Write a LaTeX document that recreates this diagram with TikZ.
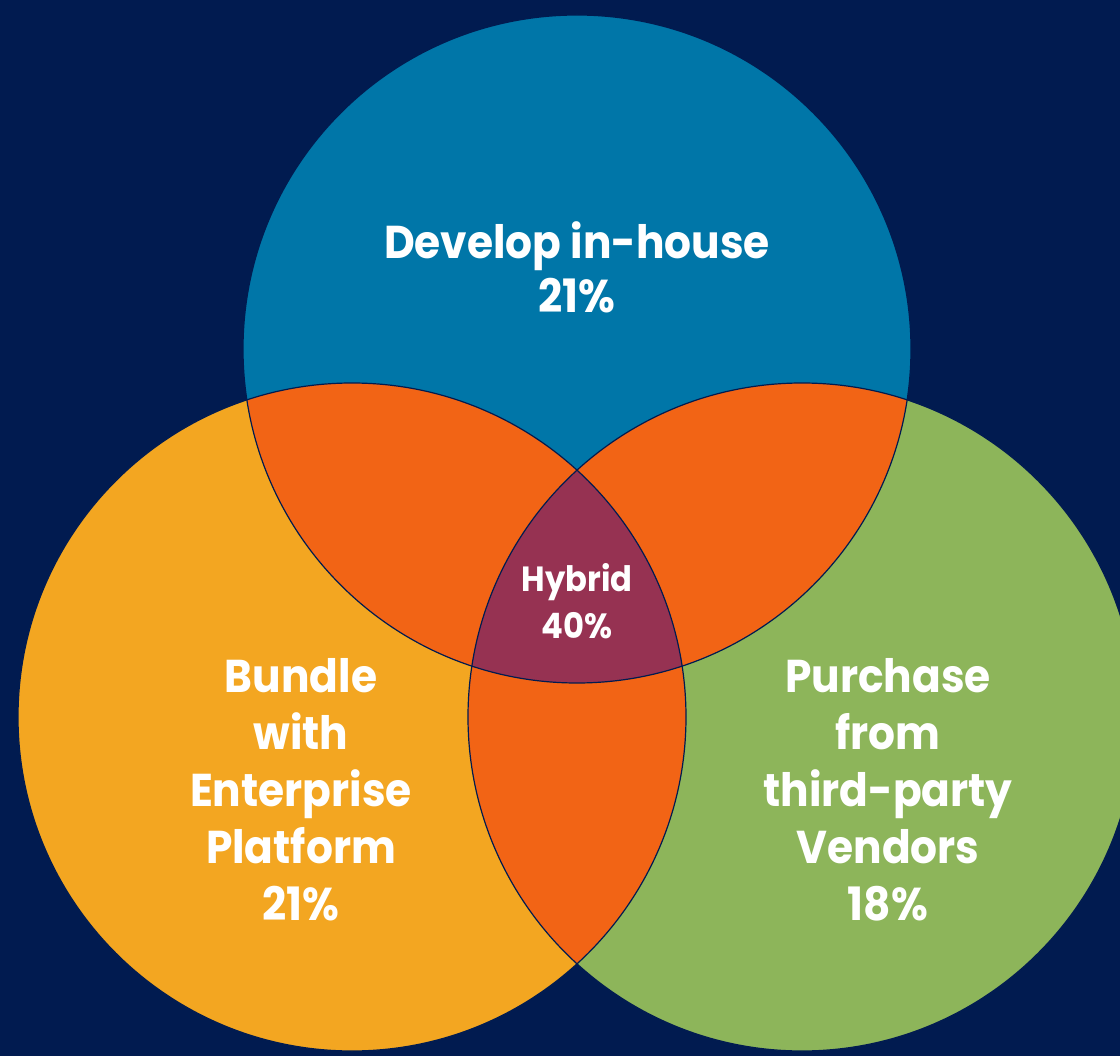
\documentclass[tikz,border=0pt]{standalone}
\usepackage{fontspec}
\setmainfont{Poppins}[FakeStretch=0.92]
\definecolor{bg}{RGB}{1,27,80}
\definecolor{topblue}{RGB}{0,118,168}
\definecolor{leftorange}{RGB}{243,166,33}
\definecolor{rightgreen}{RGB}{141,181,90}
\definecolor{overlap}{RGB}{242,100,21}
\definecolor{hybridc}{RGB}{150,50,82}
\begin{document}
\begin{tikzpicture}[x=1pt,y=-1pt,
  lbl/.style={text=white,font=\bfseries\fontsize{46}{57}\selectfont,align=center,inner sep=0pt},
  toplbl/.style={lbl,font=\bfseries\fontsize{46}{54}\selectfont},
  hyblbl/.style={lbl,font=\bfseries\fontsize{35}{47}\selectfont},
  rim/.style={draw=bg,line width=1.2pt}]
\useasboundingbox (0,0) rectangle (1120,1056);
\clip (0,0) rectangle (1120,1056);
\fill[bg] (0,0) rectangle (1120,1056);
\coordinate (ct) at (577,349);
\coordinate (cl) at (352,717);
\coordinate (cr) at (802,717);
\fill[topblue] (ct) circle[radius=334pt];
\fill[leftorange] (cl) circle[radius=334pt];
\fill[rightgreen] (cr) circle[radius=334pt];
\begin{scope}
  \clip (ct) circle[radius=334pt];
  \fill[overlap] (cl) circle[radius=334pt];
  \fill[overlap] (cr) circle[radius=334pt];
\end{scope}
\begin{scope}
  \clip (cl) circle[radius=334pt];
  \fill[overlap] (cr) circle[radius=334pt];
\end{scope}
\begin{scope}
  \clip (ct) circle[radius=334pt];
  \clip (cl) circle[radius=334pt];
  \fill[hybridc] (cr) circle[radius=334pt];
\end{scope}
\draw[rim] (ct) circle[radius=334pt];
\draw[rim] (cl) circle[radius=334pt];
\draw[rim] (cr) circle[radius=334pt];
\node[toplbl] (tdev) at (577,267) {Develop in-house\\21\%};
\node[lbl] (tbun) at (301,790) {Bundle\\with\\Enterprise\\Platform\\21\%};
\node[lbl] (tpur) at (888,790) {Purchase\\from\\third-party\\Vendors\\18\%};
\node[hyblbl] (thyb) at (577,601) {Hybrid\\40\%};
\end{tikzpicture}
\end{document}
